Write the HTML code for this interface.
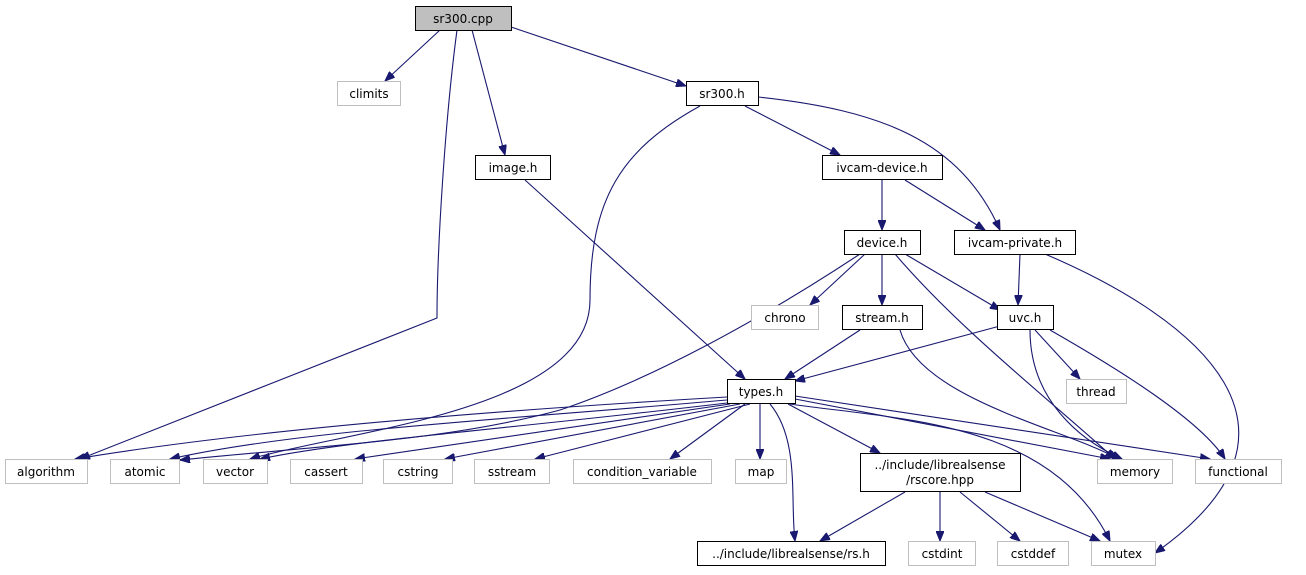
<!DOCTYPE html>
<html><head><meta charset="utf-8"><style>
html,body{margin:0;padding:0;background:#fff;width:1306px;height:575px;overflow:hidden}
svg text{font-family:"DejaVu Sans","Liberation Sans",sans-serif;font-size:12px;fill:#000;text-anchor:middle}
</style></head><body>
<svg width="1306" height="575" viewBox="0 0 1306 575" xmlns="http://www.w3.org/2000/svg">
<defs><marker id="a" markerWidth="11" markerHeight="8" refX="10" refY="4" orient="auto" markerUnits="userSpaceOnUse"><path d="M0,0 L10,4 L0,8 Z" fill="#191970" stroke="#191970"/></marker></defs>
<g fill="none" stroke="#191970" stroke-width="1.1" marker-end="url(#a)">
<path d="M440,30 L385,81"/>
<path d="M457,30 C445,120 437,250 437,318 L80,459"/>
<path d="M472,30 L505,155"/>
<path d="M511,27 L686,86"/>
<path d="M700,106 C620,150 590,200 590,300 C590,410 350,430 250,459"/>
<path d="M745,106 L840,155"/>
<path d="M758,97 C880,110 960,140 1000,230"/>
<path d="M525,180 L745,379"/>
<path d="M882,180 L882,230"/>
<path d="M905,180 L985,230"/>
<path d="M860,254 C760,320 650,380 560,410 C450,440 330,445 180,460"/>
<path d="M865,254 L810,305"/>
<path d="M882,254 L882,305"/>
<path d="M905,254 L1000,310"/>
<path d="M895,254 C960,330 1050,400 1115,459"/>
<path d="M1020,254 L1018,305"/>
<path d="M1045,254 C1200,320 1330,430 1155,553"/>
<path d="M860,330 L785,379"/>
<path d="M900,330 C920,400 1070,430 1118,459"/>
<path d="M1000,326 L795,381"/>
<path d="M1035,330 L1080,379"/>
<path d="M1030,330 C1030,400 1080,440 1122,459"/>
<path d="M1050,330 C1120,370 1200,420 1225,459"/>
<path d="M727,397 C500,410 250,430 75,459"/>
<path d="M727,400 C500,420 300,430 170,459"/>
<path d="M727,403 C500,430 350,440 260,459"/>
<path d="M730,404 L355,459"/>
<path d="M740,404 L445,459"/>
<path d="M750,404 L535,459"/>
<path d="M745,404 L670,459"/>
<path d="M760,404 L760,459"/>
<path d="M770,404 C800,440 790,500 795,541"/>
<path d="M788,404 L880,453"/>
<path d="M795,399 L1110,459"/>
<path d="M795,396 L1210,459"/>
<path d="M790,404 C900,420 1050,420 1110,541"/>
<path d="M905,492 L820,541"/>
<path d="M940,492 L940,541"/>
<path d="M960,492 L1020,541"/>
<path d="M985,492 L1100,541"/>
</g>
<g stroke-width="1">
<rect x="415.5" y="6.5" width="96" height="24" fill="#bfbfbf" stroke="#000"/>
<g fill="#fff" stroke="#000">
<rect x="686.5" y="81.5" width="72" height="24"/>
<rect x="475.5" y="155.5" width="75" height="24"/>
<rect x="822.5" y="155.5" width="120" height="24"/>
<rect x="844.5" y="230.5" width="76" height="24"/>
<rect x="954.5" y="230.5" width="121" height="24"/>
<rect x="842.5" y="305.5" width="80" height="24"/>
<rect x="997.5" y="305.5" width="56" height="24"/>
<rect x="727.5" y="379.5" width="68" height="24"/>
<rect x="860.5" y="453.5" width="160" height="38"/>
<rect x="697.5" y="541.5" width="188" height="24"/>
</g>
<g fill="#fff" stroke="#bfbfbf">
<rect x="337.5" y="81.5" width="63" height="24"/>
<rect x="751.5" y="305.5" width="67" height="24"/>
<rect x="1066.5" y="379.5" width="60" height="24"/>
<rect x="5.5" y="459.5" width="82" height="24"/>
<rect x="110.5" y="459.5" width="69" height="24"/>
<rect x="203.5" y="459.5" width="64" height="24"/>
<rect x="290.5" y="459.5" width="72" height="24"/>
<rect x="383.5" y="459.5" width="69" height="24"/>
<rect x="474.5" y="459.5" width="75" height="24"/>
<rect x="573.5" y="459.5" width="138" height="24"/>
<rect x="735.5" y="459.5" width="51" height="24"/>
<rect x="1097.5" y="459.5" width="75" height="24"/>
<rect x="1195.5" y="459.5" width="86" height="24"/>
<rect x="908.5" y="541.5" width="67" height="24"/>
<rect x="997.5" y="541.5" width="71" height="24"/>
<rect x="1091.5" y="541.5" width="64" height="24"/>
</g>
</g>
<text x="463" y="23">sr300.cpp</text>
<text x="369" y="98">climits</text>
<text x="722" y="98">sr300.h</text>
<text x="513" y="172">image.h</text>
<text x="882" y="172">ivcam-device.h</text>
<text x="882" y="247">device.h</text>
<text x="1015" y="247">ivcam-private.h</text>
<text x="785" y="322">chrono</text>
<text x="882" y="322">stream.h</text>
<text x="1025" y="322">uvc.h</text>
<text x="1096" y="396">thread</text>
<text x="761" y="396">types.h</text>
<text x="46" y="476">algorithm</text>
<text x="145" y="476">atomic</text>
<text x="235" y="476">vector</text>
<text x="326" y="476">cassert</text>
<text x="418" y="476">cstring</text>
<text x="512" y="476">sstream</text>
<text x="642" y="476">condition_variable</text>
<text x="761" y="476">map</text>
<text x="940" y="469">../include/librealsense</text>
<text x="940" y="484">/rscore.hpp</text>
<text x="1135" y="476">memory</text>
<text x="1238" y="476">functional</text>
<text x="791" y="558">../include/librealsense/rs.h</text>
<text x="942" y="558">cstdint</text>
<text x="1033" y="558">cstddef</text>
<text x="1123" y="558">mutex</text>
</svg>
</body></html>
